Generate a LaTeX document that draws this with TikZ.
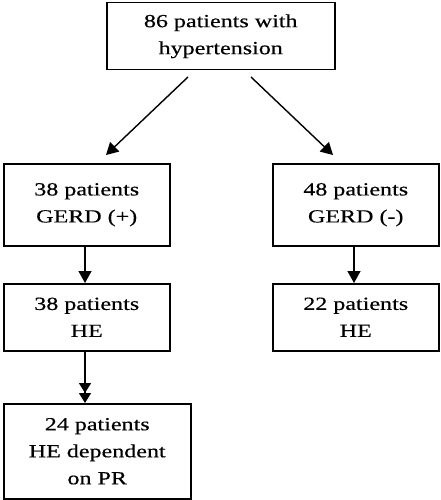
\documentclass[tikz,border=0pt]{standalone}
\usepackage{fontspec}
\setmainfont{Liberation Serif}[FakeStretch=1.3,FakeBold=0.4]
\usetikzlibrary{arrows.meta}
\begin{document}
\begin{tikzpicture}[x=1pt,y=-1pt,
  box/.style={draw,line width=1.5pt,anchor=north west,inner sep=0pt,align=center,
    font=\fontsize{18.5}{27}\selectfont},
  arr/.style={line width=1.4pt,-{Triangle[length=12pt,width=13pt]}},
  darr/.style={line width=1.4pt,-{Triangle[length=10pt,width=12pt]Triangle[length=10pt,width=12pt]}}]
\useasboundingbox (0,0) rectangle (441,500);
\node[box,minimum width=228pt,minimum height=67pt] (top) at (106,2) {86 patients with\\hypertension};
\node[box,minimum width=166pt,minimum height=82pt] (l1) at (3,163) {38 patients\\GERD (+)};
\node[box,minimum width=166pt,minimum height=82pt] (r1) at (272,163) {48 patients\\GERD (-)};
\node[box,minimum width=166pt,minimum height=67pt] (l2) at (3,283) {38 patients\\HE};
\node[box,minimum width=166pt,minimum height=67pt] (r2) at (272,283) {22 patients\\HE};
\node[box,minimum width=187pt,minimum height=95pt] (l3) at (3,403) {24 patients\\HE dependent\\on PR};
\coordinate (a1) at (188,77);
\coordinate (a2) at (251,77);
\draw[arr] (a1) -- (106,155);
\draw[arr] (a2) -- (333,155);
\draw[arr] (l1.south -| 85,0) -- (l2.north -| 85,0);
\draw[arr] (r1.south -| 354,0) -- (r2.north -| 354,0);
\draw[darr] (l2.south -| 85,0) -- (l3.north -| 85,0);
\end{tikzpicture}
\end{document}
